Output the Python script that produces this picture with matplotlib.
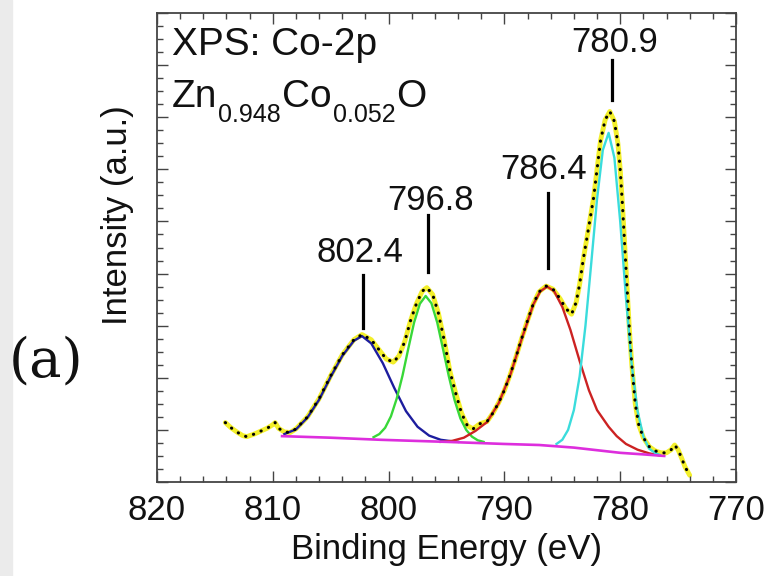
import matplotlib
matplotlib.use("Agg")
import matplotlib.pyplot as plt
from matplotlib.ticker import MultipleLocator
from matplotlib.patches import Rectangle

plt.rcParams['font.family'] = ['Liberation Sans', 'DejaVu Sans']

# ---------------- data ----------------
# measured spectrum / envelope (binding energy eV, intensity a.u.)
total_x = [814.1, 813.6, 813.1, 812.6, 812.25, 811.6, 811.1, 810.5, 810.0, 809.8,
           809.5, 809.0, 808.5, 808.0, 807.0, 806.0, 805.0, 804.0, 803.0, 802.3,
           801.5, 800.8, 800.2, 799.6, 799.1, 798.6, 798.1, 797.6, 797.1, 796.7,
           796.2, 795.7, 795.2, 794.7, 794.2, 793.7, 793.2, 792.7, 792.1, 791.5,
           791.0, 790.5, 790.0, 789.5, 789.0, 788.5, 788.0, 787.5, 787.0, 786.4,
           785.8, 785.2, 784.7, 784.2, 783.8, 783.5, 783.2, 782.9, 782.6, 782.3,
           782.0, 781.7, 781.3, 780.9, 780.5, 780.2, 780.0, 779.8, 779.6, 779.4,
           779.2, 779.0, 778.7, 778.4, 778.0, 777.5, 777.0, 776.5, 776.0, 775.6,
           775.3, 775.0, 774.7, 774.4, 774.0]
total_y = [1.14, 1.04, 0.96, 0.89, 0.87, 0.92, 0.97, 1.03, 1.10, 1.14,
           1.03, 0.96, 0.95, 1.02, 1.25, 1.60, 2.04, 2.44, 2.73, 2.83,
           2.73, 2.53, 2.36, 2.30, 2.42, 2.70, 3.10, 3.42, 3.66, 3.73,
           3.60, 3.24, 2.72, 2.12, 1.70, 1.32, 1.08, 1.02, 1.12, 1.16,
           1.32, 1.52, 1.76, 2.06, 2.40, 2.76, 3.10, 3.42, 3.65, 3.76,
           3.70, 3.52, 3.33, 3.22, 3.45, 3.80, 4.26, 4.65, 5.05, 5.45,
           6.00, 6.55, 6.95, 7.11, 6.92, 6.50, 6.00, 5.30, 4.50, 3.70,
           2.90, 2.25, 1.50, 1.10, 0.85, 0.68, 0.60, 0.56, 0.56, 0.62,
           0.71, 0.62, 0.46, 0.29, 0.13]

# background (magenta)
bg_x = [809.2, 805.0, 800.7, 795.0, 790.0, 787.0, 784.0, 782.0, 780.0, 778.0, 776.2]
bg_y = [0.88, 0.85, 0.81, 0.77, 0.73, 0.71, 0.66, 0.61, 0.56, 0.53, 0.50]

# fitted components
blue_x = [809.0, 808.0, 807.0, 806.0, 805.0, 804.0, 803.0, 802.3, 801.5, 800.5,
          799.5, 798.5, 797.5, 796.5, 795.5, 794.5, 794.0]
blue_y = [0.92, 1.01, 1.24, 1.58, 2.02, 2.42, 2.71, 2.80, 2.66, 2.28,
          1.80, 1.36, 1.06, 0.89, 0.81, 0.78, 0.77]

green_x = [801.3, 800.8, 800.3, 799.8, 799.3, 798.8, 798.3, 797.8, 797.3, 796.8,
           796.3, 795.8, 795.3, 794.8, 794.3, 793.8, 793.3, 792.8, 792.3, 791.8]
green_y = [0.86, 0.92, 1.04, 1.26, 1.60, 2.04, 2.56, 3.06, 3.42, 3.57,
           3.43, 3.06, 2.55, 2.03, 1.57, 1.22, 1.00, 0.87, 0.80, 0.77]

red_x = [795.5, 794.5, 793.5, 792.5, 791.5, 790.5, 789.5, 788.5, 787.5, 786.9,
         786.3, 785.7, 785.0, 784.3, 783.5, 782.7, 782.0, 781.0, 780.3, 779.5,
         778.5, 777.5, 776.6]
red_y = [0.77, 0.79, 0.85, 0.98, 1.15, 1.51, 2.05, 2.75, 3.41, 3.66,
         3.75, 3.66, 3.36, 2.92, 2.32, 1.76, 1.38, 1.06, 0.88, 0.73,
         0.62, 0.55, 0.51]

cyan_x = [785.5, 785.0, 784.5, 784.0, 783.5, 783.0, 782.5, 782.0, 781.5, 781.0,
          780.5, 780.0, 779.5, 779.0, 778.5, 778.0, 777.5, 777.0, 776.6]
cyan_y = [0.73, 0.81, 1.00, 1.38, 2.03, 3.00, 4.20, 5.43, 6.37, 6.70,
          6.22, 5.00, 3.53, 2.24, 1.36, 0.87, 0.64, 0.56, 0.52]

# peak annotations: text, text position, marker line x, line y-range
peak_labels = ['802.4', '796.8', '786.4', '780.9']
label_x = [802.5, 796.4, 786.6, 780.5]
label_y = [4.41, 5.41, 5.99, 8.43]
line_x = [802.24, 796.6, 786.2, 780.74]
line_y0 = [2.95, 4.03, 4.11, 7.33]
line_y1 = [3.97, 5.12, 5.55, 8.10]

xticks = [820, 810, 800, 790, 780, 770]

# ---------------- figure ----------------
fig = plt.figure(figsize=(7.7, 5.76), dpi=100)
fig.patches.append(Rectangle((0, 0), 12 / 770, 1, transform=fig.transFigure,
                             color='#ebebeb', zorder=0))

ax = fig.add_axes([157 / 770, 1 - 482 / 576, 579 / 770, 469 / 576])

ax.plot(total_x, total_y, color='#f3ef2a', lw=3.5, zorder=1, solid_capstyle='round')
ax.plot(blue_x, blue_y, color='#1d1d9e', lw=1.7, zorder=2)
ax.plot(green_x, green_y, color='#38d838', lw=1.7, zorder=2)
ax.plot(red_x, red_y, color='#cc2222', lw=1.7, zorder=2)
ax.plot(cyan_x, cyan_y, color='#3adcdc', lw=1.7, zorder=2)
ax.plot(bg_x, bg_y, color='#dd2edd', lw=1.9, zorder=2.5)
ax.plot(total_x, total_y, color='black', lw=2.2, linestyle=(0, (0.1, 2.6)),
        dash_capstyle='round', zorder=3)

for t, tx, ty, lx, y0, y1 in zip(peak_labels, label_x, label_y, line_x, line_y0, line_y1):
    ax.text(tx, ty, t, ha='center', va='center', fontsize=25, color='#111')
    ax.plot([lx, lx], [y0, y1], color='black', lw=2.3, zorder=4)

ax.text(0.026, 0.910, 'XPS: Co-2p', transform=ax.transAxes, fontsize=28,
        ha='left', va='baseline', color='#111')

# formula Zn0.948Co0.052O built piecewise
fig.canvas.draw()
renderer = fig.canvas.get_renderer()
pieces = [('Zn', 28, 0), ('0.948', 18, -15), ('Co', 28, 0), ('0.052', 18, -15), ('O', 28, 0)]
x0_px = 157 + 0.026 * 579
base_px = 576 - 107
xp = x0_px
for txt, fs, dy in pieces:
    t = fig.text(xp / 770, (base_px + dy) / 576, txt, fontsize=fs, ha='left',
                 va='baseline', color='#111')
    bb = t.get_window_extent(renderer=renderer)
    xp = bb.x1 + 1

ax.set_xlim(820, 770)
ax.set_ylim(0, 9)
ax.set_xticks(xticks)
ax.xaxis.set_minor_locator(MultipleLocator(2))
ax.yaxis.set_major_locator(MultipleLocator(1))
ax.yaxis.set_minor_locator(MultipleLocator(0.25))
ax.tick_params(which='both', direction='in', top=True, right=True,
               left=True, bottom=True, color='#444', width=1.0)
ax.tick_params(which='major', length=8)
ax.tick_params(which='minor', length=4)
ax.tick_params(axis='x', labelsize=25, pad=9, labelcolor='#111')
ax.tick_params(axis='y', labelleft=False)
for s in ax.spines.values():
    s.set_color('#444')
    s.set_linewidth(1.3)

ax.set_xlabel('Binding Energy (eV)', fontsize=25, labelpad=4, color='#111')
ax.set_ylabel('Intensity (a.u.)', fontsize=25, color='#111', labelpad=8)
ax.yaxis.set_label_coords(-0.04, 0.57)

fig.text(46 / 770, 1 - 362 / 576, '(a)', family='DejaVu Serif', fontsize=39,
         ha='center', va='center', color='#111')

fig.savefig('out.png', dpi=100)
